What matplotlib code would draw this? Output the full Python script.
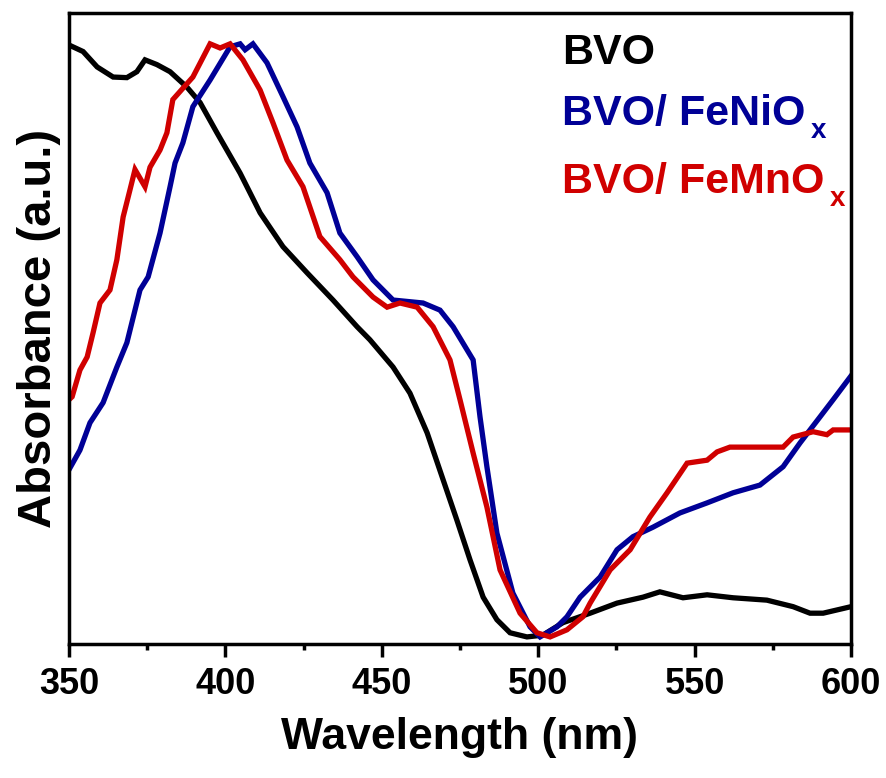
import matplotlib
matplotlib.use("Agg")
import matplotlib.pyplot as plt
from matplotlib.transforms import offset_copy

# UV-vis absorbance, normalised
bvo_nm = [350.0, 354.5, 359.0, 364.1, 368.5, 371.7, 374.3, 378.1, 382.3, 387.7,
          391.9, 397.3, 404.7, 411.1, 418.4, 426.1, 434.4, 442.1, 446.2, 453.6,
          459.0, 464.5, 469.6, 474.0, 478.2, 482.4, 486.8, 491.0, 496.4, 501.5,
          507.9, 516.6, 525.2, 533.5, 538.9, 546.3, 554.0, 562.3, 573.1, 581.5,
          586.9, 591.1, 600.0]
bvo_abs = [0.998, 0.987, 0.961, 0.944, 0.943, 0.953, 0.973, 0.965, 0.953, 0.927,
           0.901, 0.850, 0.782, 0.715, 0.658, 0.614, 0.568, 0.523, 0.501, 0.455,
           0.411, 0.344, 0.265, 0.197, 0.130, 0.067, 0.029, 0.007, 0.000, 0.003,
           0.024, 0.040, 0.057, 0.067, 0.076, 0.066, 0.071, 0.066, 0.062, 0.051,
           0.040, 0.040, 0.051]

feni_nm = [350.0, 353.5, 356.7, 360.9, 365.3, 368.5, 372.7, 375.3, 379.1, 382.3,
           383.9, 386.4, 389.6, 395.1, 401.5, 404.7, 406.3, 408.8, 413.3, 418.4,
           422.9, 427.0, 432.5, 436.6, 442.1, 447.2, 453.6, 463.2, 468.6, 472.8,
           479.2, 481.4, 483.6, 486.8, 491.9, 497.4, 500.6, 506.0, 509.2, 513.4,
           519.8, 525.2, 530.3, 536.7, 545.3, 554.0, 562.3, 570.9, 578.3, 583.7,
           590.1, 594.3, 600.0]
feni_abs = [0.282, 0.315, 0.361, 0.395, 0.455, 0.496, 0.585, 0.607, 0.681, 0.759,
            0.799, 0.833, 0.894, 0.939, 0.995, 1.000, 0.990, 1.000, 0.968, 0.911,
            0.860, 0.799, 0.749, 0.681, 0.641, 0.602, 0.568, 0.563, 0.551, 0.523,
            0.467, 0.371, 0.287, 0.175, 0.074, 0.017, 0.000, 0.017, 0.034, 0.067,
            0.101, 0.147, 0.169, 0.185, 0.209, 0.226, 0.243, 0.256, 0.287, 0.327,
            0.371, 0.400, 0.440]

femn_nm = [350.0, 351.0, 353.5, 355.8, 357.7, 359.9, 363.1, 365.3, 367.3, 369.5,
           371.1, 374.3, 375.9, 379.1, 381.3, 383.2, 389.6, 395.1, 398.3, 401.5,
           405.6, 411.1, 415.2, 419.7, 424.8, 430.2, 436.6, 440.8, 447.2, 451.7,
           455.8, 461.3, 466.4, 471.8, 475.0, 479.2, 483.6, 487.8, 494.2, 499.6,
           503.8, 509.2, 514.3, 516.6, 523.0, 529.4, 535.7, 541.2, 547.6, 554.0,
           557.2, 561.3, 578.3, 581.5, 587.9, 592.3, 594.3, 600.0]
femn_abs = [0.400, 0.405, 0.450, 0.472, 0.513, 0.563, 0.585, 0.636, 0.708, 0.754,
            0.788, 0.759, 0.792, 0.821, 0.850, 0.906, 0.944, 1.000, 0.993, 1.000,
            0.973, 0.922, 0.867, 0.804, 0.759, 0.675, 0.636, 0.607, 0.573, 0.556,
            0.563, 0.556, 0.523, 0.467, 0.400, 0.310, 0.219, 0.113, 0.040, 0.007,
            0.000, 0.012, 0.034, 0.057, 0.113, 0.147, 0.202, 0.243, 0.293, 0.298,
            0.312, 0.320, 0.320, 0.337, 0.346, 0.341, 0.349, 0.349]

labels = ["BVO", "BVO/ FeNiO", "BVO/ FeMnO"]
subs = ["", "x", "x"]
colors = ["#000000", "#000096", "#d00000"]

plt.rcParams["font.family"] = ["Liberation Sans", "DejaVu Sans"]
plt.rcParams["font.weight"] = "bold"

fig = plt.figure(figsize=(8.87, 7.78), dpi=100)
ax = fig.add_axes([0.0778, 0.1722, 0.8816, 0.8111])

series = [(bvo_nm, bvo_abs), (feni_nm, feni_abs), (femn_nm, femn_abs)]
for (x, y), c in zip(series, colors):
    ax.plot(x, y, color=c, lw=3.8, solid_joinstyle="miter")

ax.set_xlim(350, 600)
ax.set_ylim(-0.012, 1.052)
ax.set_xticks([350, 400, 450, 500, 550, 600])
ax.set_xticks([375, 425, 475, 525, 575], minor=True)
ax.set_yticks([])
for s in ax.spines.values():
    s.set_linewidth(2.5)
ax.tick_params(axis="x", which="major", direction="out", length=9.5, width=2.5,
               pad=7, labelsize=26)
ax.tick_params(axis="x", which="minor", direction="out", length=4.5, width=2.5)

ax.set_xlabel("Wavelength (nm)", fontsize=32, fontweight="bold", labelpad=11)
ax.set_ylabel("Absorbance (a.u.)", fontsize=34, fontweight="bold", labelpad=6)

# legend as coloured text, as in the original
renderer = fig.canvas.get_renderer()
for lab, sub, c, yy in zip(labels, subs, colors, [0.919, 0.8225, 0.7147]):
    t = ax.text(0.630, yy, lab, color=c, fontsize=31, fontweight="bold",
                transform=ax.transAxes, ha="left", va="baseline")
    if sub:
        bb = t.get_window_extent(renderer)
        x_end = ax.transAxes.inverted().transform((bb.x1, bb.y0))[0]
        tr = offset_copy(ax.transAxes, fig=fig, x=4, y=-9, units="points")
        ax.text(x_end, yy, sub, color=c, fontsize=20, fontweight="bold",
                transform=tr, ha="left", va="baseline")

fig.savefig("out.png", dpi=100)
